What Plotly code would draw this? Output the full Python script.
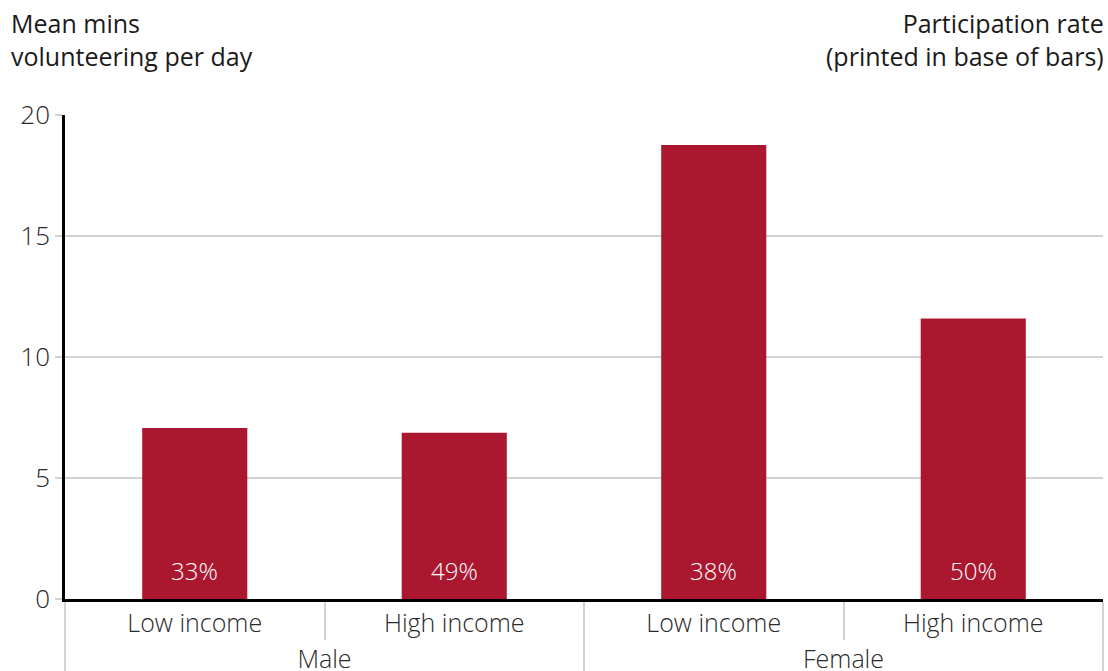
import plotly.graph_objects as go

groups = ["Male", "Male", "Female", "Female"]
incomes = ["Low income", "High income", "Low income", "High income"]
mean_mins = [7.07, 6.87, 18.76, 11.59]
participation = ["33%", "49%", "38%", "50%"]

bar_color = "#AB172F"
grid_color = "#d3d3d3"
font_family = "Open Sans"

fig = go.Figure()
fig.add_trace(go.Bar(
    x=[groups, incomes],
    y=mean_mins,
    marker=dict(color=bar_color, line=dict(width=0)),
    hoverinfo="skip",
))

for i, rate in enumerate(participation):
    fig.add_annotation(
        x=i, xref="x",
        y=0, yref="y",
        text=rate,
        showarrow=False,
        yanchor="bottom",
        yshift=10,
        font=dict(family=font_family, size=24, color="white", weight=300),
    )

fig.add_annotation(
    xref="paper", yref="paper", x=-0.054, y=1.229, xanchor="left", yanchor="top",
    text="Mean mins<br>volunteering per day", showarrow=False, align="left",
    font=dict(family=font_family, size=25, color="#1a1a1a"),
)
fig.add_annotation(
    xref="paper", yref="paper", x=1.003, y=1.229, xanchor="right", yanchor="top",
    text="Participation rate<br>(printed in base of bars)", showarrow=False, align="right",
    font=dict(family=font_family, size=25, color="#1a1a1a"),
)

fig.update_layout(
    width=1108, height=671,
    margin=dict(l=65, r=5, t=115, b=72, autoexpand=False),
    paper_bgcolor="white", plot_bgcolor="white",
    bargap=0.595,
    showlegend=False,
    font=dict(family=font_family, size=25, color="#333333"),
)
fig.update_xaxes(
    type="multicategory", automargin=False,
    showline=True, linecolor="black", linewidth=2.5,
    tickson="boundaries", ticks="outside", ticklen=38, tickcolor=grid_color, tickwidth=1.5,
    showdividers=True, dividercolor=grid_color, dividerwidth=1.5,
    tickfont=dict(family=font_family, size=25, color="#2a2a2a", weight=300),
    showgrid=False,
)
fig.update_yaxes(
    range=[0, 20], tickvals=[0, 5, 10, 15, 20], automargin=False,
    showline=True, linecolor="black", linewidth=2.5,
    ticks="outside", ticklen=7, tickcolor=grid_color, tickwidth=1.5,
    showgrid=True, gridcolor=grid_color, gridwidth=1.5,
    zeroline=False,
    tickfont=dict(family=font_family, size=26, color="#2a2a2a", weight=300),
)

fig.write_html("out.html", config={"displayModeBar": False},
               post_script="document.body.style.margin='0';")
